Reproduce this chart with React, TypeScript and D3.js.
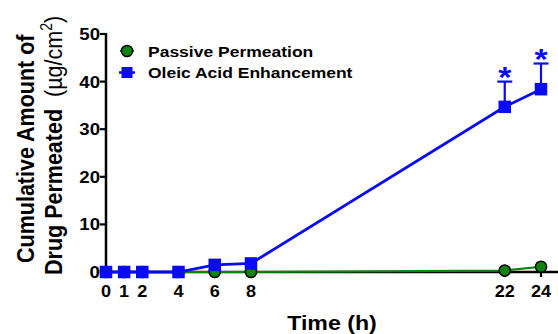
import React from "react";
import * as d3 from "d3";

// values
const times = [0, 1, 2, 4, 6, 8, 22, 24];
const passive = [0, 0, 0, 0, 0, 0, 0.3, 1.1];
const oleic = [0, 0, 0, 0, 1.5, 1.8, 34.7, 38.4];
const oleicErr = [0, 0, 0, 0, 0, 0, 5.3, 5.4];
const oleicSig = [false, false, false, false, false, false, true, true];
const yTicks = [0, 10, 20, 30, 40, 50];
const xTicks = [0, 1, 2, 4, 6, 8, 22, 24];

const W = 558;
const H = 334;
const FONT = "'Liberation Sans', Arial, sans-serif";
const SX = 1.13; // the figure is slightly stretched horizontally
const BLUE = "#0a0af5";
const GREEN = "#0d840d";

const T = ({ x, y, size, anchor = "start", weight = "bold", fill = "#000", rot = 0, children }: any) => (
  <text
    transform={`translate(${x},${y}) scale(${SX},1)${rot ? ` rotate(${rot})` : ""}`}
    fontFamily={FONT}
    fontSize={size}
    fontWeight={weight}
    textAnchor={anchor}
    fill={fill}
  >
    {children}
  </text>
);

export default function App() {
  const x = d3.scaleLinear().domain([0, 24]).range([106, 541]);
  const y = d3.scaleLinear().domain([0, 50]).range([272, 34]);

  const line = d3
    .line<number>()
    .x((_, i) => x(times[i]))
    .y((d) => y(d));

  const sq = 12.5;

  return (
    <div style={{ position: "absolute", left: 0, top: 0 }}>
      <svg width={W} height={H} style={{ display: "block", background: "#fff" }}>
        {/* y axis */}
        <line x1={x(0)} x2={x(0)} y1={y(50) - 1} y2={y(0) + 1} stroke="#000" strokeWidth={2.5} />
        {yTicks.map((t) => (
          <g key={"y" + t}>
            <line x1={x(0) - 6} x2={x(0)} y1={y(t)} y2={y(t)} stroke="#000" strokeWidth={2.2} />
            <T x={100} y={y(t) + 6} size={16.5} anchor="end">
              {t}
            </T>
          </g>
        ))}

        {/* x axis */}
        <line x1={x(0) - 1} x2={W} y1={y(0)} y2={y(0)} stroke="#000" strokeWidth={2.5} />
        {xTicks.map((t) => (
          <g key={"x" + t}>
            <line x1={x(t)} x2={x(t)} y1={y(0)} y2={y(0) + 5} stroke="#000" strokeWidth={2.2} />
            <T x={x(t)} y={297} size={16} anchor="middle">
              {t}
            </T>
          </g>
        ))}

        {/* axis titles */}
        <T x={332} y={330} size={20.5} anchor="middle">
          Time (h)
        </T>
        <T x={34} y={263} size={21.5} rot={-90}>
          Cumulative Amount of
        </T>
        <T x={62} y={275} size={21.5} rot={-90}>
          Drug Permeated
          <tspan dx={12} fontWeight="normal">(µg/cm</tspan>
          <tspan fontWeight="normal" fontSize={14} dy={-9}>2</tspan>
          <tspan fontWeight="normal" dy={9}>)</tspan>
        </T>

        {/* passive permeation */}
        <path d={line(passive) || ""} fill="none" stroke={GREEN} strokeWidth={2.2} />
        {passive.map((v, i) => (
          <circle key={"p" + i} cx={x(times[i])} cy={y(v)} r={5.6} fill={GREEN} stroke="#000" strokeWidth={1.5} />
        ))}

        {/* oleic acid enhancement */}
        {oleic.map((v, i) =>
          oleicErr[i] > 0 ? (
            <g key={"e" + i} stroke={BLUE} strokeWidth={2.2}>
              <line x1={x(times[i])} x2={x(times[i])} y1={y(v)} y2={y(v + oleicErr[i])} />
              <line x1={x(times[i]) - 7.5} x2={x(times[i]) + 7.5} y1={y(v + oleicErr[i])} y2={y(v + oleicErr[i])} />
            </g>
          ) : null
        )}
        <path d={line(oleic) || ""} fill="none" stroke={BLUE} strokeWidth={2.8} />
        {oleic.map((v, i) => (
          <rect key={"o" + i} x={x(times[i]) - sq / 2} y={y(v) - sq / 2} width={sq} height={sq} fill={BLUE} />
        ))}
        {oleic.map((v, i) =>
          oleicSig[i] ? (
            <T key={"s" + i} x={x(times[i])} y={y(v + oleicErr[i]) + 5} size={30} anchor="middle" fill={BLUE}>
              *
            </T>
          ) : null
        )}

        {/* legend */}
        <line x1={120} x2={134} y1={51} y2={51} stroke={GREEN} strokeWidth={2} />
        <circle cx={127} cy={51} r={5.6} fill={GREEN} stroke="#000" strokeWidth={1.5} />
        <T x={148} y={56.5} size={15.5}>
          Passive Permeation
        </T>
        <line x1={119} x2={135} y1={72.5} y2={72.5} stroke={BLUE} strokeWidth={2.5} />
        <rect x={127 - 5.5} y={72.5 - 5.5} width={11} height={11} fill={BLUE} />
        <T x={148} y={78} size={15.5}>
          Oleic Acid Enhancement
        </T>
      </svg>
    </div>
  );
}
